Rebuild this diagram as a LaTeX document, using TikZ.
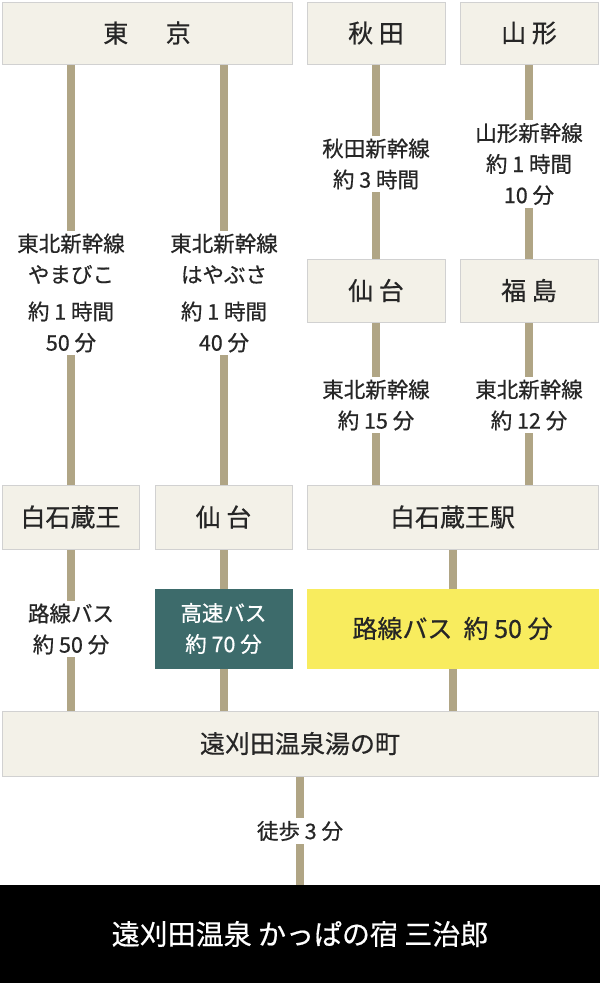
\documentclass[tikz,border=0pt]{standalone}
\usepackage{fontspec}
\setmainfont{Noto Sans CJK JP}[FakeBold=0.6]
\begin{document}
\begin{tikzpicture}[x=1pt,y=-1pt,
  box/.style={draw=black!18,fill=boxc,line width=0.8pt,inner sep=0pt,font=\fontsize{25}{28}\selectfont,text=black!85},
  lab/.style={fill=white,align=center,inner sep=3pt,font=\fontsize{21.5}{31}\selectfont,text=black!85},
  conn/.style={draw=linec,line width=8pt}]
\definecolor{boxc}{HTML}{F3F1E8}
\definecolor{linec}{HTML}{B0A585}
\definecolor{teal}{HTML}{3D6B6B}
\definecolor{yel}{HTML}{F8EC5E}
\useasboundingbox (0,0) rectangle (600,983);
\fill[white] (0,0) rectangle (600,983);
\newcommand{\bx}[6]{\node[box,minimum width=#4-#2,minimum height=#5-#3,#6] (#1) at ({(#2+#4)/2},{(#3+#5)/2}) {};}
\bx{tokyo}{2}{2}{292}{64}{}
\bx{akita}{307}{2}{445}{64}{}
\bx{yamagata}{460}{2}{598}{64}{}
\bx{sendaiR}{307}{259}{445}{322}{}
\bx{fukushima}{460}{259}{598}{322}{}
\bx{sz}{2}{485}{139}{549}{}
\bx{sm}{155}{485}{292}{549}{}
\bx{sze}{307}{485}{598}{549}{}
\bx{kousoku}{155}{589}{292}{668}{fill=teal,draw=teal}
\bx{rosen}{307}{589}{598}{668}{fill=yel,draw=yel}
\bx{yunomachi}{2}{711}{598}{776}{}
\node[fill=black,minimum width=600,minimum height=98,inner sep=0pt] (sanjiro) at (300,934) {};
\path[conn] (tokyo.south -| sz.north) -- (sz.north);
\path[conn] (tokyo.south -| sm.north) -- (sm.north);
\path[conn] (akita) -- (sendaiR);
\path[conn] (yamagata) -- (fukushima);
\path[conn] (sendaiR.south) -- (sendaiR.south |- sze.north);
\path[conn] (fukushima.south) -- (fukushima.south |- sze.north);
\path[conn] (sz.south) -- (sz.south |- yunomachi.north);
\path[conn] (sm.south) -- (sm.south |- yunomachi.north);
\coordinate (c453) at (453,549);
\path[conn] (c453) -- (c453 |- yunomachi.north);
\path[conn] (yunomachi.south -| sanjiro.north) -- (sanjiro.north);
% redraw boxes over lines
\bx{tokyo2}{2}{2}{292}{64}{}
\bx{akita2}{307}{2}{445}{64}{}
\bx{yamagata2}{460}{2}{598}{64}{}
\bx{sendaiR2}{307}{259}{445}{322}{}
\bx{fukushima2}{460}{259}{598}{322}{}
\bx{sz2}{2}{485}{139}{549}{}
\bx{sm2}{155}{485}{292}{549}{}
\bx{sze2}{307}{485}{598}{549}{}
\bx{kousoku2}{155}{589}{292}{668}{fill=teal,draw=teal}
\bx{rosen2}{307}{589}{598}{668}{fill=yel,draw=yel}
\bx{yunomachi2}{2}{711}{598}{776}{}
\node[fill=black,minimum width=600,minimum height=98,inner sep=0pt] at (300,934) {};
\node[box,draw=none,fill=none] at (tokyo) {東\hspace{1.5em}京};
\node[box,draw=none,fill=none] at (akita) {秋 田};
\node[box,draw=none,fill=none] at (yamagata) {山 形};
\node[box,draw=none,fill=none] at (sendaiR) {仙 台};
\node[box,draw=none,fill=none] at (fukushima) {福 島};
\node[box,draw=none,fill=none] at (sz) {白石蔵王};
\node[box,draw=none,fill=none] at (sm) {仙 台};
\node[box,draw=none,fill=none] at (sze) {白石蔵王駅};
\node[lab,fill=none,text=white] at (kousoku) {高速バス\\約 70 分};
\node[box,draw=none,fill=none] at (rosen) {路線バス\ \ 約 50 分};
\node[box,draw=none,fill=none] at (yunomachi) {遠刈田温泉湯の町};
\node[box,draw=none,fill=none,text=white,font=\fontsize{28}{32}\selectfont] at (sanjiro) {遠刈田温泉 かっぱの宿 三治郎};
\node[lab] (l1) at (71,293) {東北新幹線\\やまびこ\\[6pt]約 1 時間\\50 分};
\node[lab] (l2) at (224,293) {東北新幹線\\はやぶさ\\[6pt]約 1 時間\\40 分};
\node[lab] (l3) at (376,164) {秋田新幹線\\約 3 時間};
\node[lab] (l4) at (529,164) {山形新幹線\\約 1 時間\\10 分};
\node[lab] (l5) at (376,405) {東北新幹線\\約 15 分};
\node[lab] (l6) at (529,405) {東北新幹線\\約 12 分};
\node[lab] (l7) at (71,629) {路線バス\\約 50 分};
\node[lab] (l8) at (300,831) {徒歩 3 分};
\end{tikzpicture}
\end{document}
